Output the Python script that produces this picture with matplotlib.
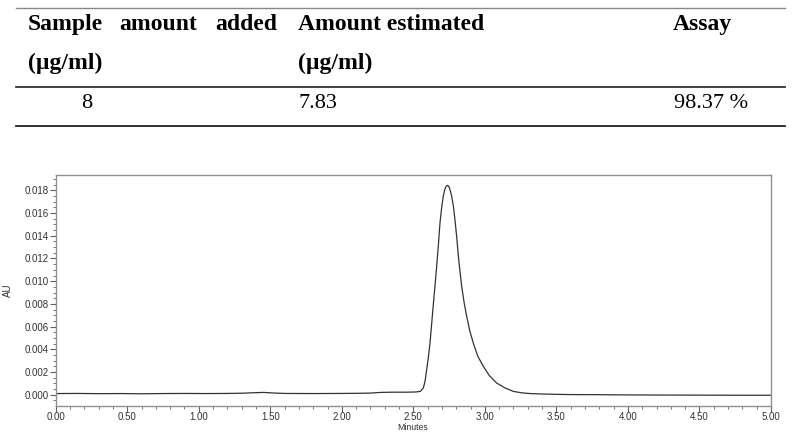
import matplotlib
matplotlib.use("Agg")
import matplotlib.pyplot as plt
from matplotlib.ticker import MultipleLocator, FormatStrFormatter

# ---- table content ----
header_col1 = ["Sample", "amount", "added"]
header_unit = "(µg/ml)"
header_col2 = "Amount estimated"
header_col3 = "Assay"
row_values = ["8", "7.83", "98.37 %"]

# ---- chromatogram data (minutes, AU) ----
minutes = [0.00, 0.15, 0.30, 0.45, 0.60, 0.75, 0.90, 1.05, 1.20, 1.30, 1.38, 1.45,
           1.52, 1.60, 1.80, 2.00, 2.10, 2.20, 2.27, 2.35, 2.45, 2.52, 2.55,
           2.570, 2.582, 2.593, 2.605, 2.617, 2.628, 2.640, 2.652, 2.663, 2.675,
           2.686, 2.698, 2.709, 2.720, 2.730, 2.740, 2.750, 2.760, 2.768, 2.780,
           2.791, 2.803, 2.814, 2.826, 2.838, 2.855, 2.873, 2.895, 2.919, 2.950,
           2.989, 3.030, 3.082, 3.140, 3.199, 3.260, 3.315, 3.40, 3.50, 3.60,
           3.80, 4.00, 4.20, 4.50, 4.80, 5.00]
au = [0.00010, 0.00011, 0.00009, 0.00010, 0.00008, 0.00010, 0.00011, 0.00010,
      0.00011, 0.00013, 0.00017, 0.00020, 0.00015, 0.00011, 0.00010, 0.00011,
      0.00012, 0.00014, 0.00020, 0.00022, 0.00022, 0.00024, 0.00030,
      0.00060, 0.00120, 0.00220, 0.00330, 0.00460, 0.00625, 0.00800, 0.00970,
      0.01130, 0.01320, 0.01510, 0.01650, 0.01747, 0.01810, 0.01838, 0.01844,
      0.01830, 0.01790, 0.01747, 0.01660, 0.01540, 0.01390, 0.01230, 0.01085,
      0.00954, 0.00810, 0.00690, 0.00560, 0.00455, 0.00340, 0.00250, 0.00170,
      0.00103, 0.00060, 0.00029, 0.00016, 0.00010, 0.00006, 0.00003, 0.00001,
      0.00000, -0.00002, -0.00003, -0.00004, -0.00005, -0.00005]

W, H = 792, 432
fig = plt.figure(figsize=(W / 100, H / 100), dpi=100)

def fx(x):
    return x / W

def fy(y):
    return 1 - y / H

# ---- table lines ----
for y, col, lw in [(7.5, "#888888", 1.0), (86.7, "#333333", 1.3), (126, "#222222", 1.3)]:
    fig.add_artist(plt.Line2D([fx(16), fx(785)], [fy(y), fy(y)], color=col, lw=lw,
                              transform=fig.transFigure))

serif = "Liberation Serif"
hsize = 17
vsize = 16
# header row 1
fig.text(fx(28), fy(30), header_col1[0], family=serif, weight="bold", size=hsize, va="baseline", ha="left")
fig.text(fx(158), fy(30), header_col1[1], family=serif, weight="bold", size=hsize, va="baseline", ha="center")
fig.text(fx(277), fy(30), header_col1[2], family=serif, weight="bold", size=hsize, va="baseline", ha="right")
fig.text(fx(298), fy(30), header_col2, family=serif, weight="bold", size=hsize, va="baseline", ha="left")
fig.text(fx(673), fy(30), header_col3, family=serif, weight="bold", size=hsize, va="baseline", ha="left")
# header row 2
fig.text(fx(28), fy(69), header_unit, family=serif, weight="bold", size=hsize, va="baseline", ha="left")
fig.text(fx(298), fy(69), header_unit, family=serif, weight="bold", size=hsize, va="baseline", ha="left")
# value row
fig.text(fx(87), fy(108), row_values[0], family=serif, size=vsize, va="baseline", ha="center")
fig.text(fx(298), fy(108), row_values[1], family=serif, size=vsize, va="baseline", ha="left")
fig.text(fx(674), fy(108), row_values[2], family=serif, size=vsize, va="baseline", ha="left")

# ---- chromatogram axes ----
left, right, top, bottom = 55.7, 771, 174.7, 405.7
ax = fig.add_axes([fx(left), fy(bottom), (right - left) / W, (bottom - top) / H])
ax.plot(minutes, au, color="#333333", lw=0.9)
ax.set_xlim(0, 5)
ax.set_ylim(-0.00097, 0.01938)

ax.xaxis.set_major_locator(MultipleLocator(0.5))
ax.xaxis.set_minor_locator(MultipleLocator(0.1))
ax.yaxis.set_major_locator(MultipleLocator(0.002))
ax.yaxis.set_minor_locator(MultipleLocator(0.0005))
ax.xaxis.set_major_formatter(FormatStrFormatter("%.2f"))
ax.yaxis.set_major_formatter(FormatStrFormatter("%.3f"))

for s in ax.spines.values():
    s.set_color("#909090")
    s.set_linewidth(1.0)
ax.tick_params(which="major", length=4, width=0.8, color="#606060", labelsize=7,
               labelcolor="#333333", pad=0.8)
ax.tick_params(which="minor", length=2.5, width=0.6, color="#606060")
for lab in ax.get_xticklabels() + ax.get_yticklabels():
    lab.set_family("Liberation Sans")

fig.text(fx(413), fy(427.5), "Minutes", family="Liberation Sans", size=6.3, color="#333333",
         va="center", ha="center")
fig.text(fx(8), fy(290), "AU", family="Liberation Sans", size=7, color="#333333",
         rotation=90, va="center", ha="center")

fig.savefig("out.png", dpi=100)
